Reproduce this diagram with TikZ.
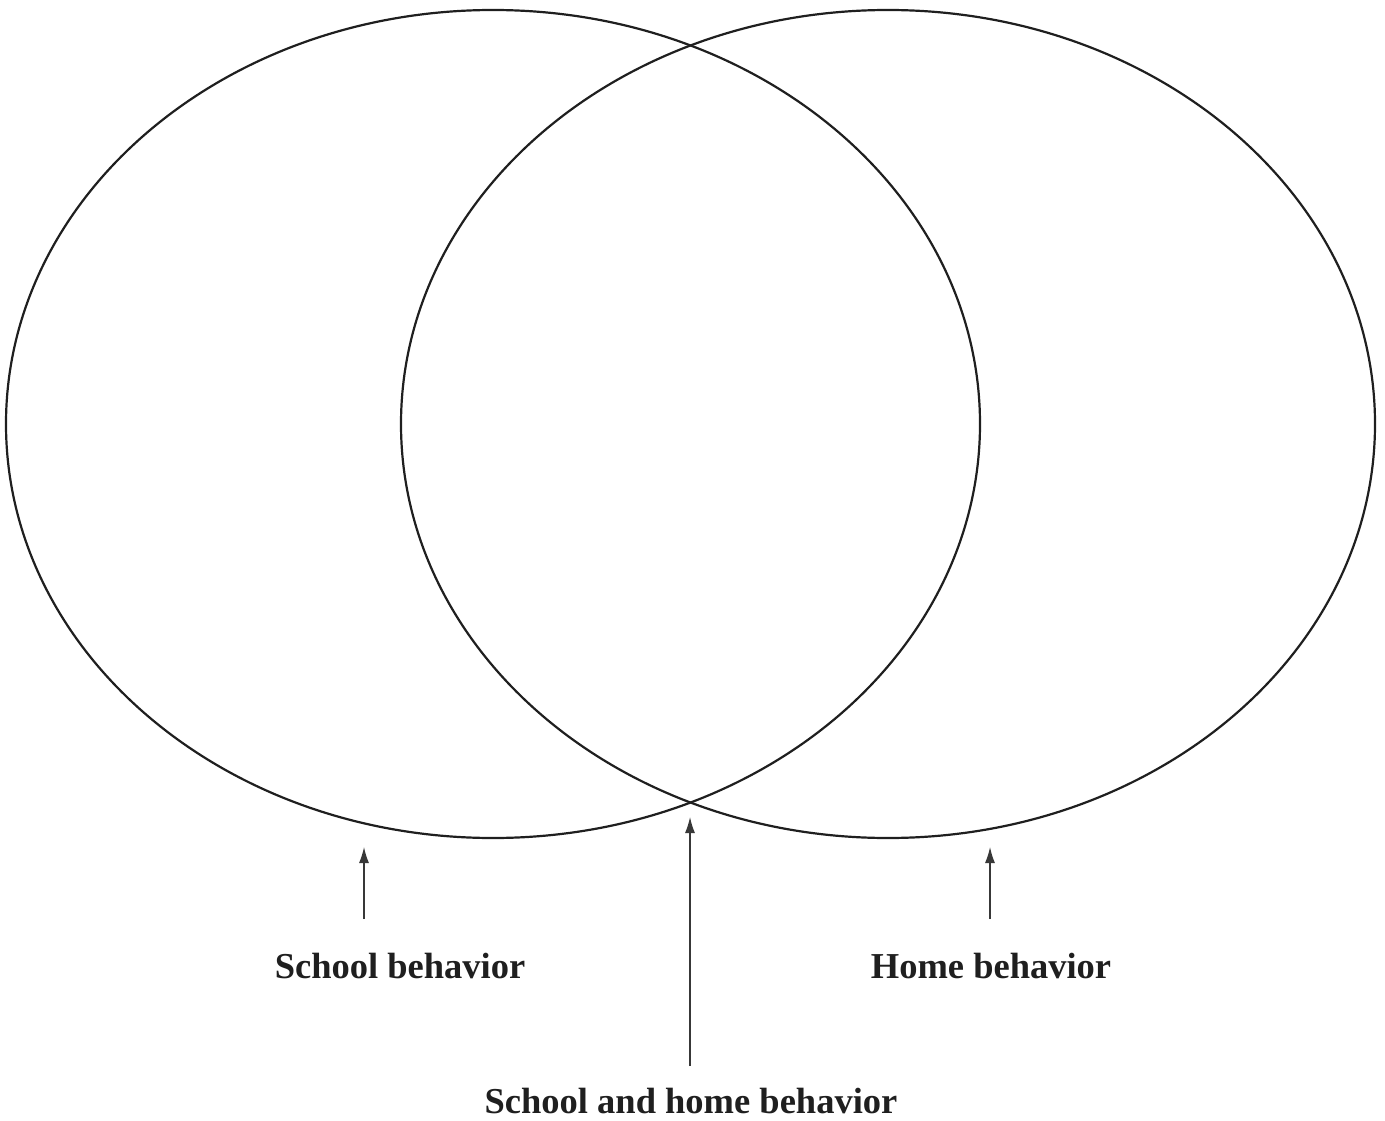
\documentclass[tikz,border=0pt]{standalone}
\usepackage{fontspec}
\setmainfont{Liberation Serif}
\usetikzlibrary{arrows.meta}
\begin{document}
\begin{tikzpicture}[x=1pt,y=-1pt,
  ring/.style={draw=black!88, line width=2.2pt},
  pointer/.style={draw=black!78, line width=1.3pt, -{Latex[length=16pt,width=10pt]}},
  lab/.style={font=\bfseries\fontsize{36.5}{40}\selectfont, text=black!88, inner sep=0pt, anchor=base}]
\useasboundingbox (0,0) rectangle (1385,1121);
\draw[ring] (493,424) ellipse [x radius=487, y radius=414];
\draw[ring] (888,424) ellipse [x radius=487, y radius=414];
\coordinate (t1) at (364,847);
\coordinate (s1) at (364,919);
\coordinate (t2) at (690,817);
\coordinate (s2) at (690,1066);
\coordinate (t3) at (990,847);
\coordinate (s3) at (990,919);
\draw[pointer] (s1) -- (t1);
\draw[pointer] (s2) -- (t2);
\draw[pointer] (s3) -- (t3);
\node[lab] (school) at (400,978) {School behavior};
\node[lab] (home) at (991,978) {Home behavior};
\node[lab] (both) at (691,1113) {School and home behavior};
\end{tikzpicture}
\end{document}
